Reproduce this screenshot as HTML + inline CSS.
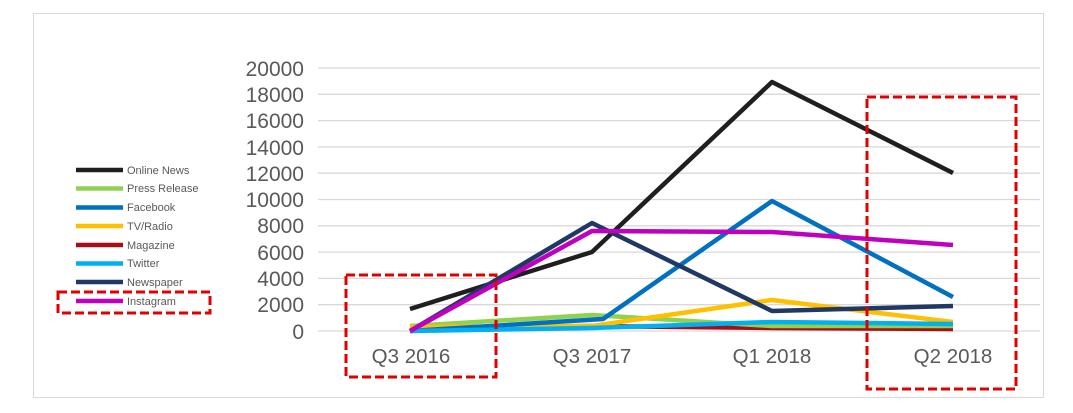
<!DOCTYPE html>
<html><head><style>body{margin:0;background:#fff}</style></head><body>
<svg width="1073" height="408" xmlns="http://www.w3.org/2000/svg" font-family="Liberation Sans, sans-serif">
<rect x="0" y="0" width="1073" height="408" fill="#fff"/>
<rect x="33.5" y="13.5" width="1010" height="384" fill="none" stroke="#d9d9d9"/>
<g stroke="#d9d9d9" stroke-width="1.3">
<line x1="318" x2="1040" y1="68" y2="68"/><line x1="318" x2="1040" y1="94.3" y2="94.3"/><line x1="318" x2="1040" y1="120.6" y2="120.6"/><line x1="318" x2="1040" y1="146.9" y2="146.9"/><line x1="318" x2="1040" y1="173.2" y2="173.2"/><line x1="318" x2="1040" y1="199.5" y2="199.5"/><line x1="318" x2="1040" y1="225.8" y2="225.8"/><line x1="318" x2="1040" y1="252.1" y2="252.1"/><line x1="318" x2="1040" y1="278.4" y2="278.4"/><line x1="318" x2="1040" y1="304.7" y2="304.7"/><line x1="318" x2="1040" y1="331" y2="331"/>
</g>
<g fill="#595959" font-size="21" text-anchor="end">
<text x="304" y="76">20000</text><text x="304" y="102">18000</text><text x="304" y="128">16000</text><text x="304" y="155">14000</text><text x="304" y="181">12000</text><text x="304" y="207">10000</text><text x="304" y="233">8000</text><text x="304" y="260">6000</text><text x="304" y="286">4000</text><text x="304" y="312">2000</text><text x="304" y="339">0</text>
</g>
<g fill="#595959" font-size="20.5" text-anchor="middle">
<text x="411" y="363">Q3 2016</text><text x="592" y="363">Q3 2017</text><text x="772" y="363">Q1 2018</text><text x="953" y="363">Q2 2018</text>
</g>
<g fill="none" stroke-width="4.5" stroke-linejoin="round">
<polyline stroke="#a50f15" points="410,328 592,326 772,328 953,329"/>
<polyline stroke="#92d050" points="410,326 592,315 772,326 953,326"/>
<polyline stroke="#ffc000" points="410,327 592,326 772,300 953,322"/>
<polyline stroke="#0070c0" points="410,331 603,319 772,201 953,297"/>
<polyline stroke="#00b0f0" points="410,331 592,328 772,322 953,324"/>
<polyline stroke="#1f1f1f" points="410,309 592,252 772,82 953,173"/>
<polyline stroke="#203864" points="410,331 592,223 772,311 953,306"/>
<polyline stroke="#c000c0" points="410,331 592,231 772,232 953,245"/>
</g>
<g stroke-width="4.5">
<line x1="76" x2="123" y1="170" y2="170" stroke="#1f1f1f"/>
<line x1="76" x2="123" y1="188.5" y2="188.5" stroke="#92d050"/>
<line x1="76" x2="123" y1="207.5" y2="207.5" stroke="#0070c0"/>
<line x1="76" x2="123" y1="226" y2="226" stroke="#ffc000"/>
<line x1="76" x2="123" y1="245" y2="245" stroke="#a50f15"/>
<line x1="76" x2="123" y1="263.5" y2="263.5" stroke="#00b0f0"/>
<line x1="76" x2="123" y1="282" y2="282" stroke="#203864"/>
<line x1="76" x2="123" y1="301" y2="301" stroke="#c000c0"/>
</g>
<g fill="#595959" font-size="11">
<text x="127" y="174">Online News</text><text x="127" y="192">Press Release</text><text x="127" y="211">Facebook</text><text x="127" y="230">TV/Radio</text><text x="127" y="249">Magazine</text><text x="127" y="267">Twitter</text><text x="127" y="286">Newspaper</text><text x="127" y="305">Instagram</text>
</g>
<g fill="none" stroke="#e00000" stroke-width="3" stroke-dasharray="9,4">
<rect x="58" y="292" width="152" height="21"/>
<rect x="346" y="275" width="150" height="102"/>
<rect x="867" y="97" width="149" height="292"/>
</g>
</svg>
</body></html>
